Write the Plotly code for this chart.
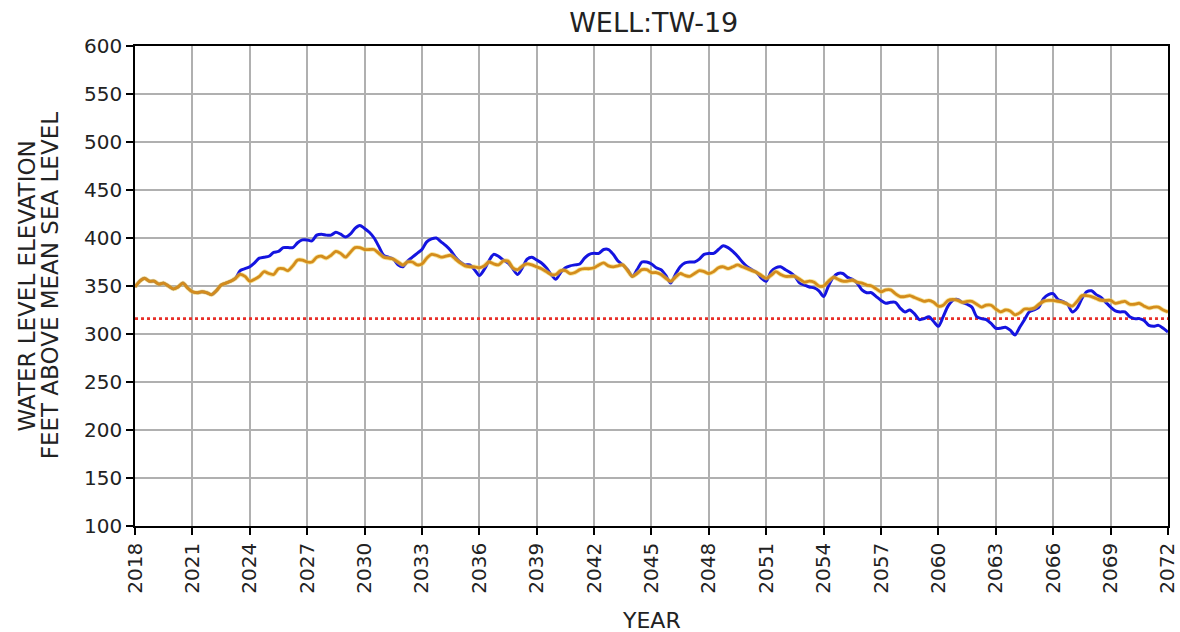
import numpy as np
import plotly.graph_objects as go

# Quarterly time steps (decimal years)
years = [2018 + 0.25 * k for k in range(217)]

# Simulated water level, scenario A (orange)
level_orange = [
    349, 355, 358, 355, 355, 352, 353, 350, 347, 349, 353, 348,
    344, 343, 344, 343, 341, 345, 351, 353, 355, 358, 362, 360,
    355, 357, 360, 365, 363, 362, 368, 368, 366, 371, 377, 377,
    375, 375, 380, 381, 379, 382, 386, 384, 380, 385, 390, 390,
    388, 388, 388, 384, 380, 379, 378, 375, 372, 375, 375, 372,
    373, 379, 383, 382, 380, 381, 382, 378, 374, 371, 370, 370,
    369, 371, 375, 373, 372, 376, 376, 369, 367, 371, 373, 372,
    370, 368, 365, 362, 362, 366, 366, 363, 364, 367, 368, 368,
    369, 372, 374, 371, 370, 371, 372, 366, 360, 363, 367, 367,
    364, 364, 362, 358, 355, 359, 363, 361, 360, 363, 366, 365,
    363, 365, 369, 370, 368, 370, 372, 370, 368, 366, 364, 361,
    358, 361, 365, 362, 360, 360, 360, 357, 354, 355, 354, 350,
    350, 355, 359, 357, 355, 355, 356, 354, 353, 351, 350, 347,
    344, 346, 346, 342, 339, 339, 340, 338, 336, 334, 335, 333,
    329, 330, 335, 336, 335, 333, 334, 334, 331, 328, 330, 330,
    326, 323, 325, 324, 320, 322, 326, 326, 327, 331, 334, 335,
    335, 334, 333, 331, 329, 334, 340, 340, 339, 337, 335, 335,
    335, 332, 333, 334, 331, 331, 332, 329, 327, 328, 328, 325,
    323,
]

# Simulated water level, scenario B (blue)
level_blue = [
    349, 355, 358, 355, 355, 352, 353, 350, 347, 349, 353, 348,
    344, 343, 344, 343, 341, 345, 351, 353, 355, 358, 366, 368,
    370, 374, 379, 380, 381, 385, 386, 390, 390, 390, 395, 398,
    398, 397, 403, 404, 403, 403, 406, 404, 401, 404, 410, 413,
    410, 406, 400, 391, 382, 380, 378, 372, 370, 376, 380, 384,
    388, 396, 399, 400, 396, 392, 387, 380, 375, 372, 372, 367,
    361, 367, 376, 383, 381, 377, 374, 368, 362, 369, 378, 380,
    377, 374, 369, 362, 357, 364, 369, 371, 372, 373, 379, 383,
    384, 384, 388, 388, 383, 376, 372, 367, 360, 367, 375, 375,
    373, 369, 367, 361, 353, 362, 370, 374, 375, 375, 378, 383,
    384, 384, 388, 392, 390, 386, 381, 375, 370, 367, 364, 358,
    355, 365, 369, 370, 367, 364, 360, 353, 351, 349, 348, 345,
    339, 350, 359, 363, 363, 359, 357, 353, 346, 343, 343, 339,
    335, 332, 333, 333, 327, 323, 325, 321, 315, 316, 318, 313,
    308, 318, 329, 335, 336, 333, 331, 328, 318, 316, 315, 311,
    306, 306, 307, 304, 299, 307, 315, 323, 325, 328, 337, 341,
    342, 336, 334, 331, 323, 327, 337, 344, 345, 341, 338, 333,
    328, 324, 323, 323, 318, 316, 316, 314, 309, 308, 309, 306,
    302,
]

threshold = 316
x_ticks = list(range(2018, 2073, 3))
y_ticks = list(range(100, 601, 50))

font = "DejaVu Sans, Arial, sans-serif"
text_color = "#222"

fig = go.Figure()

fig.add_trace(go.Scatter(
    x=[2018, 2072], y=[threshold, threshold], mode="lines",
    line=dict(color="#e8302a", width=2.8, dash="dot"),
    showlegend=False, hoverinfo="skip",
))
fig.add_trace(go.Scatter(
    x=years, y=level_blue, mode="lines",
    line=dict(color="#1414e0", width=3, shape="spline", smoothing=0.8),
    showlegend=False,
))
fig.add_trace(go.Scatter(
    x=years, y=level_orange, mode="lines",
    line=dict(color="#f2d24a", width=4.5, shape="spline", smoothing=0.8),
    opacity=0.55, showlegend=False, hoverinfo="skip",
))
fig.add_trace(go.Scatter(
    x=years, y=level_orange, mode="lines",
    line=dict(color="#d48c1c", width=2.8, shape="spline", smoothing=0.8),
    showlegend=False,
))

axis_common = dict(
    showline=True, linecolor="black", linewidth=1.5, mirror=True,
    ticks="outside", ticklen=7, tickwidth=1.5, tickcolor="black",
    showgrid=True, gridcolor="#b0b0b0", gridwidth=1.5,
    zeroline=False, automargin=False,
    tickfont=dict(family=font, size=20, color=text_color),
)

fig.update_layout(
    width=1180, height=632,
    margin=dict(l=135, r=12, t=46, b=106),
    paper_bgcolor="white", plot_bgcolor="white",
    title=dict(text="WELL:TW-19", x=0.554, xanchor="center", y=0.965, yanchor="middle",
               font=dict(family=font, size=27, color=text_color), automargin=False),
    xaxis=dict(
        range=[2018, 2072.001], tickvals=x_ticks, ticktext=[str(t) for t in x_ticks],
        tickangle=-90, ticklabeloverflow="allow",
        **axis_common,
    ),
    yaxis=dict(range=[100, 600], tickvals=y_ticks, **axis_common),
    annotations=[
        dict(text="WATER LEVEL ELEVATION", xref="paper", yref="paper",
             x=-0.105, y=0.5, xanchor="center", yanchor="middle", textangle=-90,
             showarrow=False, font=dict(family=font, size=23, color=text_color)),
        dict(text="FEET ABOVE MEAN SEA LEVEL", xref="paper", yref="paper",
             x=-0.082, y=0.5, xanchor="center", yanchor="middle", textangle=-90,
             showarrow=False, font=dict(family=font, size=23, color=text_color)),
        dict(text="YEAR", xref="paper", yref="paper",
             x=0.5, y=-0.196, xanchor="center", yanchor="middle",
             showarrow=False, font=dict(family=font, size=22, color=text_color)),
    ],
)

fig.write_html("out.html")
